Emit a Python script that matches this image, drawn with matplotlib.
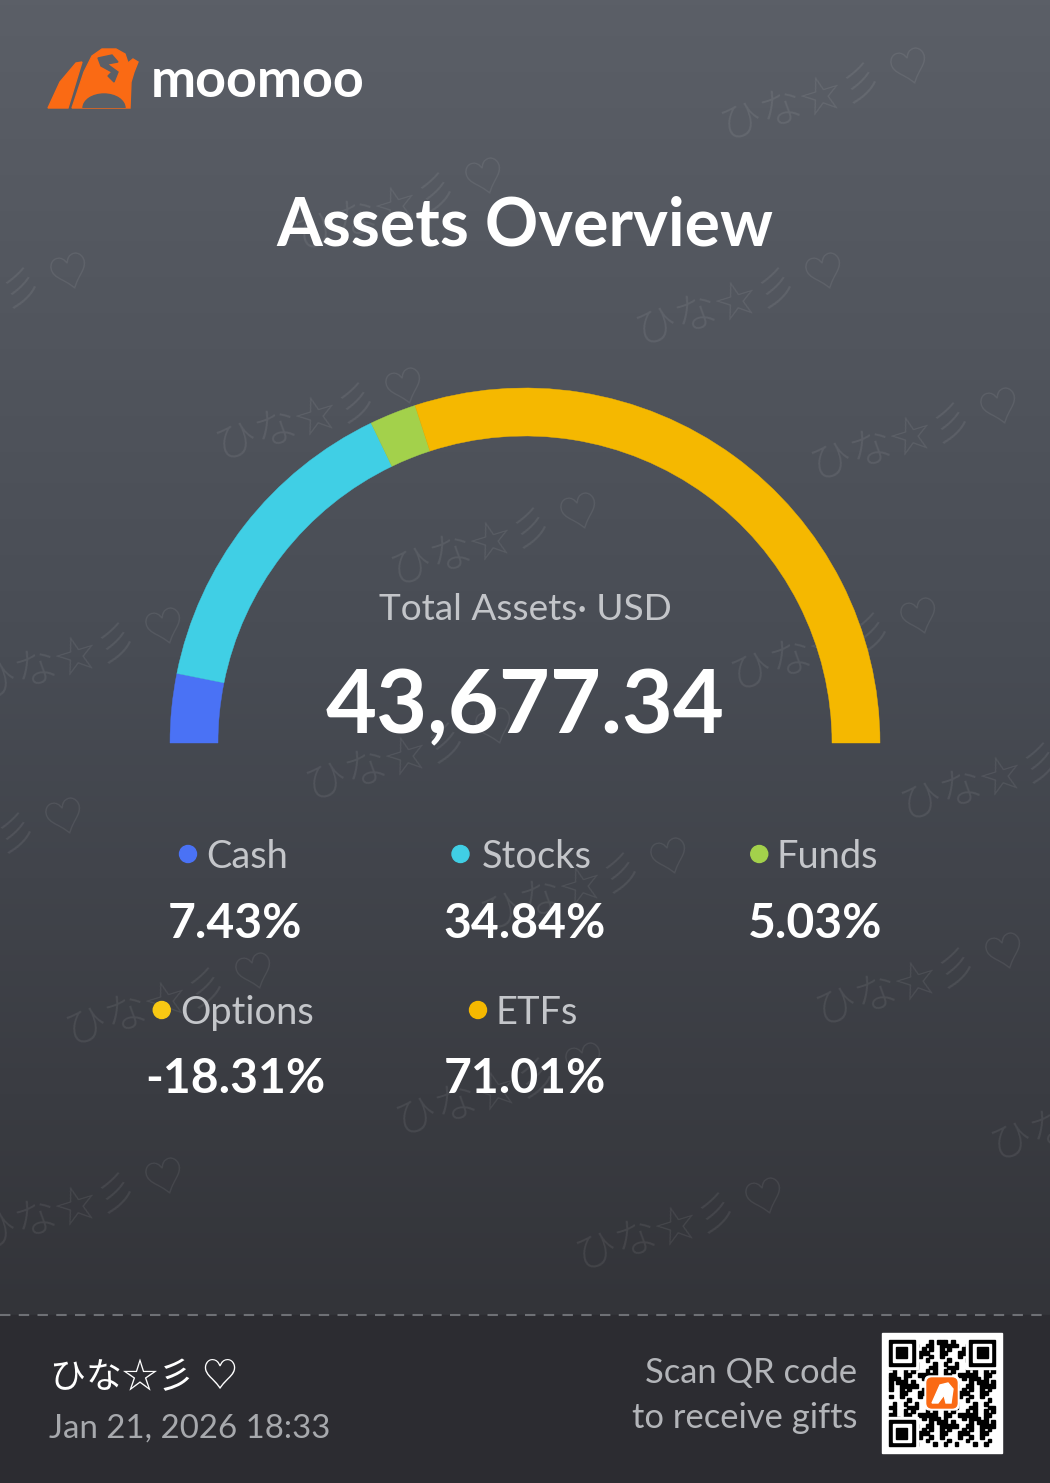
#!/usr/bin/env python3
# -*- coding: utf-8 -*-

import numpy as np
from matplotlib import pyplot as plt
from matplotlib.patches import Wedge, Circle, Rectangle, Polygon, FancyBboxPatch, Ellipse
from matplotlib.colors import LinearSegmentedColormap

categories = ['Cash', 'Stocks', 'Funds', 'Options', 'ETFs']
percents = [7.43, 34.84, 5.03, -18.31, 71.01]
colors = ['#4a72f5', '#40cfe5', '#a3d14b', '#f8c813', '#f5b800']
total_assets = '43,677.34'
user_name = 'ひな☆彡 ♡'
stamp = 'Jan 21, 2026 18:33'

W, H = 1050, 1483
LATIN = ['Lato', 'DejaVu Sans']
CJK = ['Noto Sans CJK JP', 'DejaVu Sans']
BG_TOP = '#5b5f67'


def px(v):
    # pixel height -> points at dpi 100
    return v * 0.72


def draw_background(ax):
    cmap = LinearSegmentedColormap.from_list('bg', [BG_TOP, '#484c54', '#333439'])
    grad = np.linspace(0, 1, 256).reshape(-1, 1)
    ax.imshow(grad, cmap=cmap, extent=[0, W, 1315, 0], aspect='auto', zorder=0)
    ax.add_patch(Rectangle((0, 1315), W, H - 1315, color='#2c2c31', zorder=0))
    ax.plot([0, W], [1315, 1315], color='#6e7075', lw=1.5, ls=(0, (5, 4)), zorder=1)


def draw_watermarks(ax):
    spots = [(725, 140), (300, 250), (-115, 345), (640, 345), (220, 460), (815, 480),
             (395, 585), (-20, 700), (735, 690), (310, 800), (905, 820), (-120, 890),
             (485, 930), (70, 1045), (820, 1025), (400, 1135), (995, 1160),
             (-20, 1250), (580, 1270)]
    for x, y in spots:
        ax.text(x, y, user_name, family=CJK, fontweight='light', fontsize=px(42),
                color='white', alpha=0.08, rotation=17, rotation_mode='anchor',
                ha='left', va='baseline', zorder=1)


def draw_logo(ax):
    orange = '#fa6a14'
    ax.add_patch(Polygon([(48, 108), (60, 82), (76, 63), (82, 62), (68, 108)],
                         closed=True, color=orange, zorder=3))
    body = [(72, 108), (84, 72), (92, 56), (102, 49), (116, 49), (125, 54), (128, 63),
            (133, 59), (138, 62), (134, 72), (131, 82), (130, 108)]
    body_patch = Polygon(body, closed=True, color=orange, zorder=3)
    ax.add_patch(body_patch)
    # arch between the legs, kept inside the body outline
    arch = Ellipse((104, 108), 42, 28, color='#596068', zorder=4)
    ax.add_patch(arch)
    arch.set_clip_path(body_patch)
    # face mark
    ax.add_patch(Polygon([(98, 58), (112, 55), (118, 62), (107, 64), (118, 72), (114, 82),
                          (108, 76), (112, 72), (101, 66)],
                         closed=True, color=BG_TOP, zorder=4))
    ax.text(151, 97, 'moomoo', family=LATIN, fontweight='bold', fontsize=px(54),
            color='white', ha='left', va='baseline', zorder=3)


def draw_gauge(ax):
    cx, cy, r_out, width = 525, 743, 355, 48
    shown = [(c, p, col) for c, p, col in zip(categories, percents, colors) if p > 0]
    tot = sum(p for _, p, _ in shown)
    start = 180.0
    for name, p, col in shown:
        span = 180.0 * p / tot
        # y axis is inverted, so 180 -> 360 sweeps over the top from left to right
        ax.add_patch(Wedge((cx, cy), r_out, start, start + span, width=width,
                           facecolor=col, edgecolor=col, lw=0.3, zorder=3))
        start += span

    ax.text(cx, 620, 'Total Assets· USD', family=LATIN, fontsize=px(37), color='#c3c5c9',
            ha='center', va='baseline', zorder=3)
    ax.text(cx, 733, total_assets, family=LATIN, fontweight='bold', fontsize=px(88),
            color='white', ha='center', va='baseline', zorder=3)


def draw_legend(ax):
    cols = [235, 525, 815, 235, 525]
    label_base = [868, 868, 868, 1024, 1024]
    value_base = [938, 938, 938, 1093, 1093]
    for name, p, col, x, lb, vb in zip(categories, percents, colors, cols, label_base, value_base):
        ax.text(x + 12, lb, name, family=LATIN, fontsize=px(38), color='#c4c6ca',
                ha='center', va='baseline', zorder=3)
        # dot sits just left of the label
        lw = len(name) * 17.5
        ax.add_patch(Circle((x + 10 - lw / 2 - 22, lb - 14), 8.5, color=col, zorder=3))
        ax.text(x, vb, '%.2f%%' % p, family=LATIN, fontweight='bold', fontsize=px(48),
                color='white', ha='center', va='baseline', zorder=3)


def draw_footer(ax):
    ax.text(50, 1388, user_name, family=CJK, fontsize=px(36), color='white',
            ha='left', va='baseline', zorder=3)
    ax.text(49, 1438, stamp, family=LATIN, fontsize=px(33), color='#a7a9ad',
            ha='left', va='baseline', zorder=3)
    ax.text(857, 1383, 'Scan QR code', family=LATIN, fontsize=px(34.5), color='#b3b5b9',
            ha='right', va='baseline', zorder=3)
    ax.text(857, 1428, 'to receive gifts', family=LATIN, fontsize=px(34.5), color='#b3b5b9',
            ha='right', va='baseline', zorder=3)

    # QR code block (decorative module pattern)
    x0, y0, size = 882, 1333, 120
    ax.add_patch(Rectangle((x0, y0), size, size, color='white', zorder=3))
    n = 29
    m = (size - 14) / n
    qx, qy = x0 + 7, y0 + 7
    for i in range(n):
        for j in range(n):
            if (i * i * 3 + j * 5 + i * j * 7 + j * j) % 11 < 5:
                ax.add_patch(Rectangle((qx + j * m, qy + i * m), m, m, color='black', zorder=4))
    for fx, fy in [(0, 0), (n - 7, 0), (0, n - 7)]:
        ax.add_patch(Rectangle((qx + fx * m - m, qy + fy * m - m), 9 * m, 9 * m, color='white', zorder=5))
        ax.add_patch(Rectangle((qx + fx * m, qy + fy * m), 7 * m, 7 * m, color='black', zorder=5))
        ax.add_patch(Rectangle((qx + (fx + 1) * m, qy + (fy + 1) * m), 5 * m, 5 * m, color='white', zorder=5))
        ax.add_patch(Rectangle((qx + (fx + 2) * m, qy + (fy + 2) * m), 3 * m, 3 * m, color='black', zorder=5))
    ax.add_patch(FancyBboxPatch((x0 + 43, y0 + 43), 34, 34, boxstyle='round,pad=0,rounding_size=5',
                                color='white', zorder=6))
    ax.add_patch(FancyBboxPatch((x0 + 45, y0 + 45), 30, 30, boxstyle='round,pad=0,rounding_size=5',
                                color='#fa6a14', zorder=7))
    ax.add_patch(Polygon([(x0 + 50, y0 + 70), (x0 + 58, y0 + 52), (x0 + 66, y0 + 50),
                          (x0 + 71, y0 + 56), (x0 + 69, y0 + 70), (x0 + 64, y0 + 70),
                          (x0 + 62, y0 + 62), (x0 + 56, y0 + 70)],
                         closed=True, color='white', zorder=8))


def main():
    fig = plt.figure(figsize=(W / 100, H / 100), dpi=100)
    ax = fig.add_axes([0, 0, 1, 1])
    ax.set_xlim(0, W)
    ax.set_ylim(H, 0)
    ax.axis('off')

    draw_background(ax)
    draw_watermarks(ax)
    draw_logo(ax)
    ax.text(525, 245, 'Assets Overview', family=LATIN, fontweight='bold', fontsize=px(66),
            color='white', ha='center', va='baseline', zorder=3)
    draw_gauge(ax)
    draw_legend(ax)
    draw_footer(ax)

    fig.savefig('out.png', dpi=100, facecolor='#2c2c31')


if __name__ == "__main__":
    main()
